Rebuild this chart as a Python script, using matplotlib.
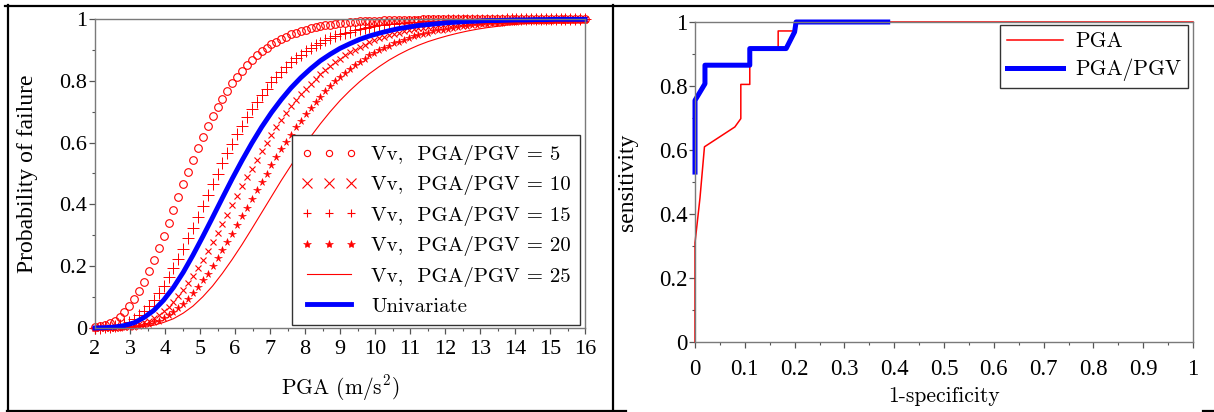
"""
Curvas de fragilidad (Vv vs PGA para distintas razones PGA/PGV) y curvas ROC
de los dos indicadores. Figura de dos paneles con recuadro tipo tabla.
"""
import matplotlib
matplotlib.use("Agg")
import matplotlib.pyplot as plt
from matplotlib.lines import Line2D
from matplotlib.ticker import MultipleLocator
from matplotlib.font_manager import FontProperties

plt.rcParams["mathtext.fontset"] = "cm"
plt.rcParams["font.family"] = ["Liberation Serif", "DejaVu Serif"]

# ---------------- datos panel izquierdo ----------------
pga = [2.00, 2.14, 2.28, 2.42, 2.56, 2.70, 2.84, 2.98, 3.12, 3.26,
       3.40, 3.54, 3.68, 3.82, 3.96, 4.10, 4.24, 4.38, 4.52, 4.66,
       4.80, 4.94, 5.08, 5.22, 5.36, 5.50, 5.64, 5.78, 5.92, 6.06,
       6.20, 6.34, 6.48, 6.62, 6.76, 6.90, 7.04, 7.18, 7.32, 7.46,
       7.60, 7.74, 7.88, 8.02, 8.16, 8.30, 8.44, 8.58, 8.72, 8.86,
       9.00, 9.14, 9.28, 9.42, 9.56, 9.70, 9.84, 9.98, 10.12, 10.26,
       10.40, 10.54, 10.68, 10.82, 10.96, 11.10, 11.24, 11.38, 11.52, 11.66,
       11.80, 11.94, 12.08, 12.22, 12.36, 12.50, 12.64, 12.78, 12.92, 13.06,
       13.20, 13.34, 13.48, 13.62, 13.76, 13.90, 14.04, 14.18, 14.32, 14.46,
       14.60, 14.74, 14.88, 15.02, 15.16, 15.30, 15.44, 15.58, 15.72, 15.86,
       16.00]
pga_line = pga[::2]  # las curvas sin marcadores se leyeron cada dos puntos

p_ratio5 = [.003, .005, .009, .015, .024, .036, .051, .070, .093, .120,
            .150, .184, .220, .259, .299, .340, .382, .424, .465, .506,
            .545, .583, .619, .653, .685, .715, .742, .768, .792, .813,
            .833, .851, .867, .882, .895, .907, .918, .927, .936, .943,
            .950, .956, .961, .966, .970, .974, .977, .980, .982, .984,
            .986, .988, .990, .991, .992, .993, .994, .995, .995, .996,
            .996, .997, .997, .998, .998, .998, .998, .999, .999, .999,
            .999, .999, .999, .999, 1, 1, 1, 1, 1, 1,
            1, 1, 1, 1, 1, 1, 1, 1, 1, 1,
            1, 1, 1, 1, 1, 1, 1, 1, 1, 1, 1]
p_ratio15 = [.000, .001, .002, .003, .005, .009, .014, .021, .029, .041,
             .055, .071, .090, .112, .137, .164, .193, .224, .257, .290,
             .325, .360, .396, .431, .466, .500, .533, .566, .597, .627,
             .655, .682, .708, .732, .754, .775, .795, .813, .830, .845,
             .860, .873, .885, .896, .906, .915, .923, .931, .938, .944,
             .950, .955, .959, .964, .967, .971, .974, .976, .979, .981,
             .983, .985, .987, .988, .989, .990, .991, .992, .993, .994,
             .995, .995, .996, .996, .997, .997, .997, .998, .998, .998,
             .998, .998, .998, .998, .999, .999, .999, .999, .999, .999,
             .999, .999, .999, .999, 1, 1, 1, 1, 1, 1, 1]
p_ratio10 = [.000, .000, .000, .001, .001, .002, .003, .005, .008, .012,
             .018, .024, .033, .043, .055, .069, .085, .103, .123, .145,
             .169, .194, .221, .249, .277, .307, .337, .367, .397, .428,
             .458, .488, .516, .545, .572, .599, .625, .649, .673, .695,
             .717, .737, .756, .774, .791, .807, .822, .836, .849, .861,
             .872, .883, .892, .901, .910, .917, .924, .931, .937, .942,
             .947, .952, .956, .960, .964, .967, .970, .972, .975, .977,
             .979, .981, .983, .984, .986, .987, .988, .989, .990, .991,
             .992, .993, .993, .994, .995, .995, .996, .996, .996, .997,
             .997, .997, .998, .998, .998, .998, .998, .998, .999, .999, .999]
p_ratio20 = [.000, .000, .000, .000, .001, .001, .002, .003, .004, .006,
             .009, .013, .018, .024, .032, .041, .052, .065, .079, .095,
             .113, .133, .154, .176, .200, .225, .251, .278, .305, .333,
             .361, .389, .417, .445, .473, .500, .527, .553, .578, .603,
             .626, .649, .671, .692, .712, .731, .749, .766, .782, .798,
             .812, .826, .838, .850, .861, .872, .882, .891, .899, .907,
             .914, .921, .927, .933, .939, .944, .948, .952, .956, .960,
             .963, .966, .969, .972, .974, .976, .978, .980, .982, .983,
             .985, .986, .987, .988, .989, .990, .991, .992, .993, .993,
             .994, .994, .995, .995, .996, .996, .996, .997, .997, .997, .997]
p_ratio25 = [.000, .000, .000, .001, .002, .005, .009, .018, .030, .048,
             .071, .101, .136, .177, .222, .270, .321, .373, .425, .477,
             .526, .574, .619, .661, .700, .736, .768, .797, .823, .846,
             .867, .885, .901, .915, .927, .937, .946, .954, .961, .967,
             .972, .976, .980, .983, .985, .988, .989, .991, .992, .994, .995]
p_univariate = [.000, .001, .003, .008, .017, .034, .057, .090, .131, .180,
                .236, .296, .358, .421, .483, .542, .598, .650, .697, .739,
                .777, .810, .839, .865, .886, .905, .920, .934, .945, .954,
                .962, .969, .974, .979, .982, .985, .988, .990, .992, .993,
                .995, .995, .996, .997, .997, .998, .998, .999, .999, .999, .999]

legend_left = ["Vv,  PGA/PGV = 5", "Vv,  PGA/PGV = 10", "Vv,  PGA/PGV = 15",
               "Vv,  PGA/PGV = 20", "Vv,  PGA/PGV = 25", "Univariate"]

# ---------------- datos panel derecho (ROC) ----------------
fpr_pga = [0, 0, 0.010, 0.019, 0.080, 0.092, 0.092, 0.110, 0.110, 0.167, 0.167, 0.200, 0.200, 1.0]
tpr_pga = [0, 0.31, 0.45, 0.61, 0.672, 0.698, 0.805, 0.805, 0.917, 0.917, 0.972, 0.972, 1.0, 1.0]
fpr_ratio = [0, 0, 0.020, 0.020, 0.110, 0.110, 0.183, 0.200, 0.203, 0.387]
tpr_ratio = [0.531, 0.755, 0.807, 0.865, 0.865, 0.917, 0.917, 0.969, 1.0, 1.0]

ticks_left_x = [2, 3, 4, 5, 6, 7, 8, 9, 10, 11, 12, 13, 14, 15, 16]
ticks_y = [0, 0.2, 0.4, 0.6, 0.8, 1.0]
labels_y = ["0", "0.2", "0.4", "0.6", "0.8", "1"]
ticks_right_x = [0, 0.1, 0.2, 0.3, 0.4, 0.5, 0.6, 0.7, 0.8, 0.9, 1.0]
labels_right_x = ["0", "0.1", "0.2", "0.3", "0.4", "0.5", "0.6", "0.7", "0.8", "0.9", "1"]

RED = "#ff0000"
BLUE = "#0000ff"
SPINE = "#7a7a7a"
W, H = 1214, 412


def _style_axes(ax, tick_size, xpad):
    for s in ax.spines.values():
        s.set_color(SPINE)
        s.set_linewidth(1.0)
    ax.tick_params(which="major", direction="out", length=4, width=0.9,
                   color="#555555", labelsize=tick_size)
    ax.tick_params(which="minor", direction="out", length=2.5, width=0.8, color="#555555")
    ax.tick_params(axis="x", which="major", pad=xpad)
    ax.tick_params(axis="y", which="major", pad=1.5)


def _border(fig, x0, y0, x1, y1):
    fig.add_artist(Line2D([x0 / W, x1 / W], [1 - y0 / H, 1 - y1 / H],
                          transform=fig.transFigure, color="black", lw=1.6))


def main():
    cm_font = FontProperties(family="cmr10", size=15)
    cm_label = FontProperties(family="cmr10", size=15.5)

    fig = plt.figure(figsize=(W / 100, H / 100), dpi=100)
    ax1 = fig.add_axes([95 / W, 1 - 328 / H, 490 / W, 309 / H])
    ax2 = fig.add_axes([695 / W, 1 - 342 / H, 498 / W, 320 / H])

    # --- panel izquierdo: curvas de fragilidad ---
    ax1.plot(pga, p_ratio5, ls="none", marker="o", mfc="none", mec=RED, ms=5.5, mew=0.8, clip_on=False)
    ax1.plot(pga, p_ratio15, ls="none", marker="+", color=RED, ms=9, mew=0.7, clip_on=False)
    ax1.plot(pga, p_ratio10, ls="none", marker="x", color=RED, ms=4.5, mew=0.8, clip_on=False)
    ax1.plot(pga, p_ratio20, ls="none", marker="*", color=RED, ms=5.5, mew=0.4, clip_on=False)
    ax1.plot(pga_line, p_ratio25, color=RED, lw=0.8, clip_on=False)
    ax1.plot(pga_line, p_univariate, color=BLUE, lw=3.5, clip_on=False)

    ax1.set_xlim(2, 16)
    ax1.set_ylim(0, 1)
    ax1.set_xticks(ticks_left_x)
    ax1.set_xticklabels([str(t) for t in ticks_left_x])
    ax1.set_yticks(ticks_y)
    ax1.set_yticklabels(labels_y)
    ax1.xaxis.set_minor_locator(MultipleLocator(0.5))
    ax1.yaxis.set_minor_locator(MultipleLocator(0.1))
    _style_axes(ax1, 16, 5)
    ax1.set_xlabel("PGA (m/s$^2$)", fontproperties=cm_label)
    ax1.xaxis.set_label_coords(0.5, -0.145)
    ax1.set_ylabel("Probability of failure", fontsize=17)
    ax1.yaxis.set_label_coords(-0.116, 0.5)

    handles = [
        Line2D([], [], ls="none", marker="o", mfc="none", mec=RED, ms=4.5, mew=0.8),
        Line2D([], [], ls="none", marker="x", color=RED, ms=7, mew=0.8),
        Line2D([], [], ls="none", marker="+", color=RED, ms=5.5, mew=0.8),
        Line2D([], [], ls="none", marker="*", color=RED, ms=6, mew=0.4),
        Line2D([], [], color=RED, lw=0.8),
        Line2D([], [], color=BLUE, lw=3.5),
    ]
    leg1 = ax1.legend(handles, legend_left, loc="lower right", bbox_to_anchor=(0.99, 0.01),
                      borderaxespad=0, prop=cm_font, numpoints=3, handlelength=2.7,
                      handletextpad=0.65, labelspacing=0.5, borderpad=0.45,
                      fancybox=False, framealpha=1)
    leg1.get_frame().set_edgecolor("#333333")
    leg1.get_frame().set_linewidth(1.0)

    # --- panel derecho: curvas ROC ---
    ax2.plot(fpr_pga, tpr_pga, color=RED, lw=1.1, clip_on=False, label="PGA")
    ax2.plot(fpr_ratio, tpr_ratio, color=BLUE, lw=3.6, clip_on=False, label="PGA/PGV")
    ax2.set_xlim(0, 1)
    ax2.set_ylim(0, 1)
    ax2.set_xticks(ticks_right_x)
    ax2.set_xticklabels(labels_right_x)
    ax2.set_yticks(ticks_y)
    ax2.set_yticklabels(labels_y)
    ax2.xaxis.set_minor_locator(MultipleLocator(0.05))
    ax2.yaxis.set_minor_locator(MultipleLocator(0.1))
    _style_axes(ax2, 16.5, 8)
    ax2.set_xlabel("1-specificity", fontproperties=cm_label)
    ax2.xaxis.set_label_coords(0.5, -0.14)
    ax2.set_ylabel("sensitivity", fontsize=17)
    ax2.yaxis.set_label_coords(-0.1145, 0.5)
    leg2 = ax2.legend(loc="upper right", bbox_to_anchor=(0.99, 0.99), borderaxespad=0,
                      prop=FontProperties(family="cmr10", size=15.5),
                      handlelength=2.6, handletextpad=0.6, labelspacing=0.35,
                      borderpad=0.3, fancybox=False, framealpha=1)
    leg2.get_frame().set_edgecolor("#333333")
    leg2.get_frame().set_linewidth(1.0)

    # --- recuadro tipo tabla ---
    _border(fig, 5, 5.5, 1214, 5.5)
    _border(fig, 7.5, 5, 7.5, 411)
    _border(fig, 612.5, 5, 612.5, 412)
    _border(fig, 7, 410.5, 626, 410.5)
    _border(fig, 1203, 411, 1214, 411)

    fig.savefig("out.png", dpi=100)
    plt.close(fig)


if __name__ == "__main__":
    main()
